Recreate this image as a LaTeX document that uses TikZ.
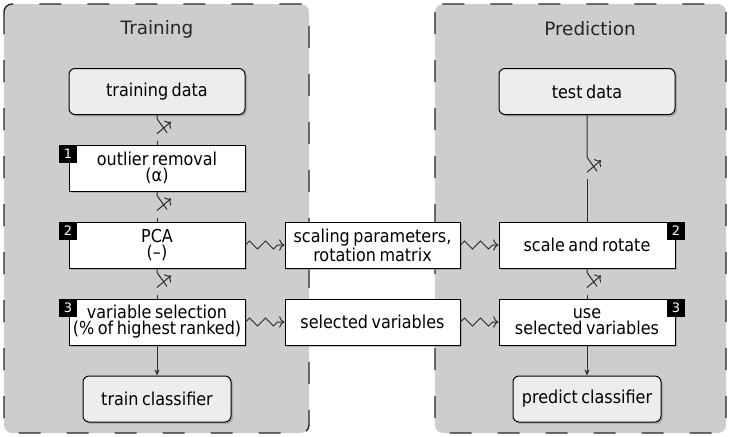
\documentclass[tikz,border=0pt]{standalone}
\usepackage{fontspec}
\setmainfont{DejaVu Sans}
\newfontfamily\boxfont[WordSpace=0.7]{DejaVu Sans Condensed}
\usetikzlibrary{calc,shadows,decorations.pathmorphing,arrows.meta}
\definecolor{panelgray}{RGB}{204,205,204}
\definecolor{endgray}{RGB}{237,237,237}
\definecolor{linkgray}{RGB}{45,45,45}

\tikzset{
  panel/.style={draw=black!85, line width=0.7pt, dash pattern=on 11pt off 13pt, fill=panelgray, rounded corners=4pt},
  stage/.style={draw, fill=white, line width=0.5pt, minimum width=88pt, minimum height=23pt, inner sep=0pt, align=center,
    font=\boxfont\fontsize{8.9}{8}\selectfont, drop shadow={shadow xshift=1pt, shadow yshift=-1pt, fill=black!45}},
  ends/.style={stage, fill=endgray, rounded corners=3pt},
  badge/.style={fill=black, text=white, minimum size=9pt, inner sep=0pt, font=\fontsize{6.5}{7}\selectfont},
  link/.style={draw=linkgray, line width=0.5pt},
  wave/.style={link, ->, decorate, decoration={zigzag, amplitude=2pt, segment length=8pt, post length=1.5pt}},
  paneltitle/.style={font=\fontsize{9.2}{11}\selectfont, text=black!85},
}

\begin{document}
\begin{tikzpicture}[x=0.5pt, y=-0.5pt]
    \useasboundingbox (0,0) rectangle (729,436);
    \draw[panel] (4,4) rectangle (309,433);
    \draw[panel] (435,4) rectangle (726,433);
    \node[paneltitle] (traintitle) at (157,29) {Training};
    \node[paneltitle] (predtitle) at (590,29) {Prediction};

    \node[ends] (traindata) at (157,91.5) {training data};
    \node[stage] (outlier) at (157,168) {outlier removal\\(α)};
    \node[stage] (pca) at (157,245) {PCA\\(–)};
    \node[stage] (varsel) at (157,322) {variable selection\\(\% of highest ranked)};
    \node[ends, minimum width=74pt] (trainclf) at (157,399) {train classifier};

    \node[stage, minimum width=87.5pt] (scaling) at (372.5,245) {scaling parameters,\\rotation matrix};
    \node[stage, minimum width=87.5pt] (selvars) at (372.5,322) {selected variables};

    \node[ends] (testdata) at (587,91.5) {test data};
    \node[stage] (scalerot) at (587,245) {scale and rotate};
    \node[stage] (usevars) at (587,322) {use\\selected variables};
    \node[ends, minimum width=74pt] (predclf) at (587,399) {predict classifier};

    \foreach \n/\b in {outlier/1,pca/2,varsel/3}
        \node[badge, anchor=north west] (trainbadge\b) at ([xshift=-5pt]\n.north west) {\b};
    \foreach \n/\b in {scalerot/2,usevars/3}
        \node[badge, anchor=north east] (predbadge\b) at ([xshift=5pt]\n.north east) {\b};

    \foreach \a/\b in {traindata/outlier,outlier/pca,pca/varsel,testdata/scalerot,scalerot/usevars} {
        \coordinate (m) at ($(\a.south)!0.5!(\b.north)$);
        \draw[link] (\a.south) -- ($(m)+(0,-11)$) -- ($(m)+(10,3)$);
        \draw[link] ($(m)+(0,11)$) -- (\b.north);
        \draw[link,-{To[length=2.5pt]}] ($(m)+(0,4)$) -- ($(m)+(14,-8)$);
    }
    \draw[link,-{Stealth[length=3pt,width=2.5pt]}] (varsel) -- (trainclf);
    \draw[link,-{Stealth[length=3pt,width=2.5pt]}] (usevars) -- (predclf);

    \draw[wave] (pca) -- (scaling);
    \draw[wave] (scaling) -- (scalerot);
    \draw[wave] (varsel) -- (selvars);
    \draw[wave] (selvars) -- (usevars);
\end{tikzpicture}
\end{document}
